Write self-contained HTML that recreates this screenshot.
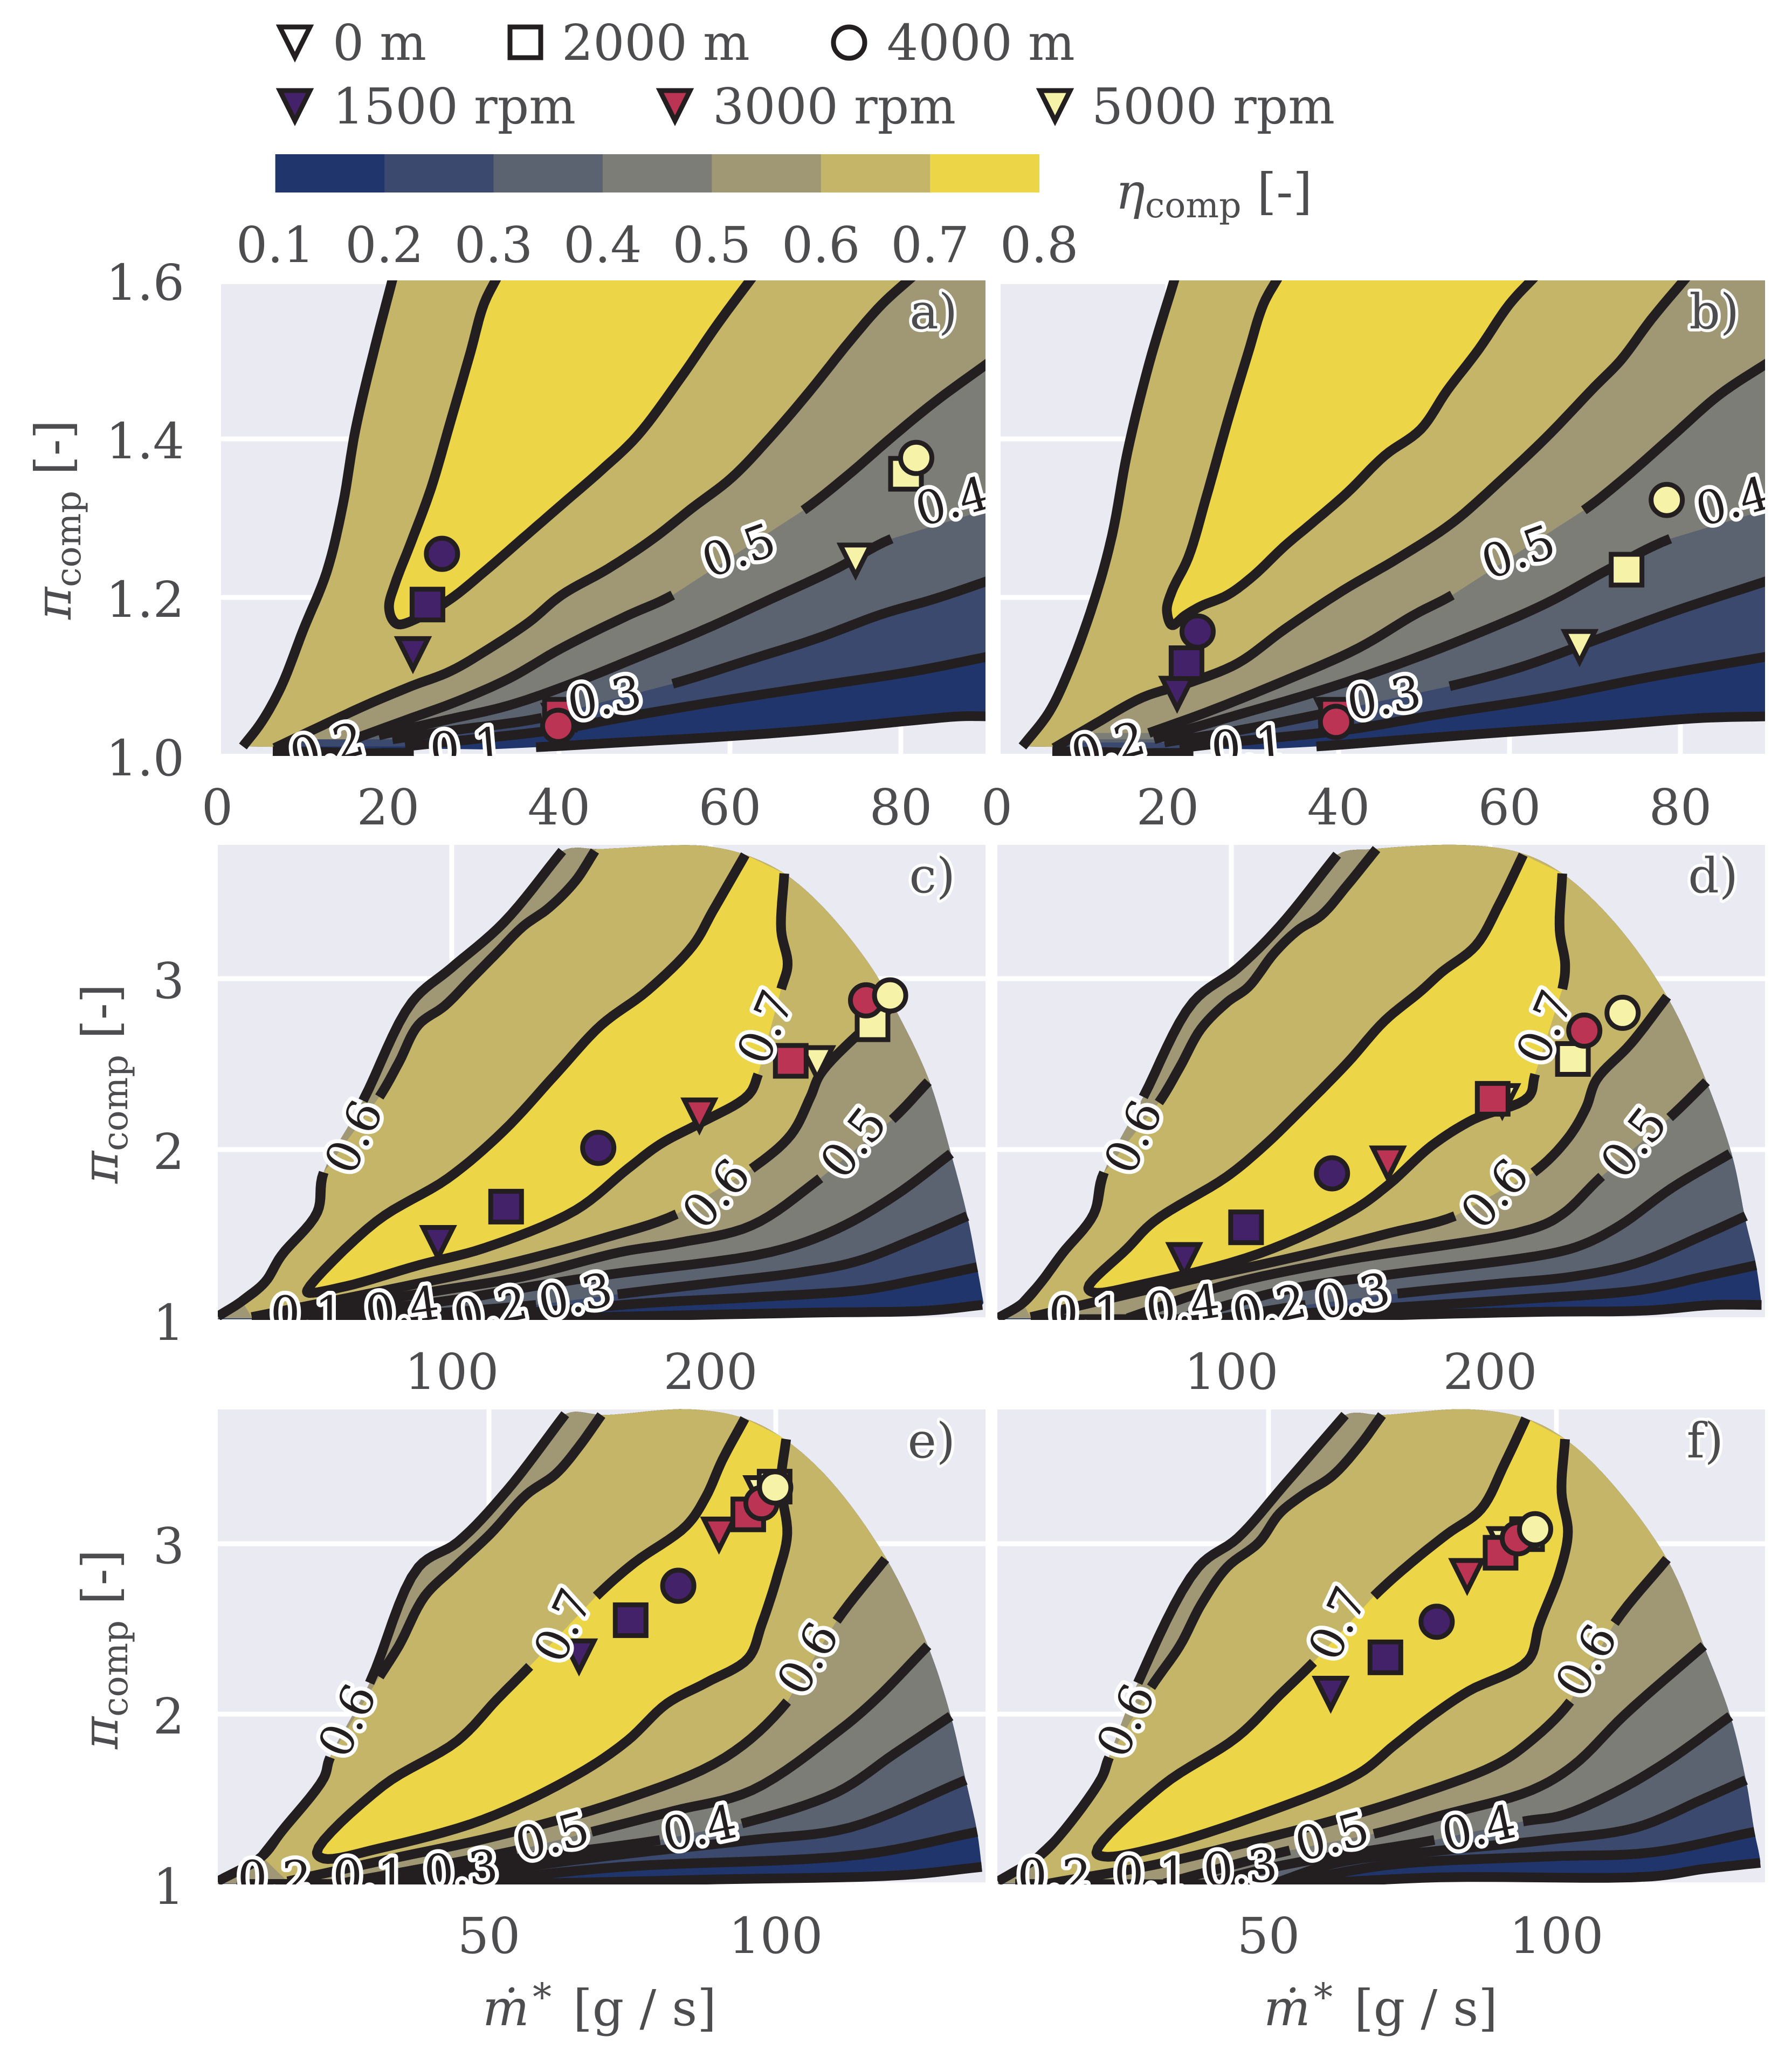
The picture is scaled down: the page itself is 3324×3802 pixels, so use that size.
<!DOCTYPE html>
<html>
<head>
<meta charset="utf-8">
<title>Compressor map panels</title>
<style>
html,body{margin:0;padding:0;background:#fff;}
svg{display:block;}
text{font-family:"DejaVu Serif","Liberation Serif",serif;fill:#4d4d4f;}
.t{font-size:91.5px;}
.lbl{font-size:86px;fill:#231f20;stroke:#fff;stroke-width:15px;paint-order:stroke;stroke-linejoin:round;}
.let{font-size:90px;fill:#4d4d4f;stroke:#fff;stroke-width:11px;paint-order:stroke;stroke-linejoin:round;}
.mk{stroke:#231f20;stroke-width:9;stroke-linejoin:miter;stroke-miterlimit:10;}
</style>
</head>
<body>
<svg id="chart" xmlns="http://www.w3.org/2000/svg" width="3324" height="3802" viewBox="0 0 3324 3802">
<rect x="0" y="0" width="3324" height="3802" fill="#fff"/>
<g>
  <polygon class="mk" fill="#fff" points="519,50 575,50 547,106"/>
  <text class="t" x="617" y="111">0 m</text>
  <rect class="mk" fill="#fff" x="946" y="50" width="57" height="57"/>
  <text class="t" x="1042" y="111">2000 m</text>
  <circle class="mk" fill="#fff" cx="1575" cy="79" r="29"/>
  <text class="t" x="1645" y="111">4000 m</text>
  <polygon class="mk" fill="#43226a" points="519,168 575,168 547,224"/>
  <text class="t" x="617" y="229">1500 rpm</text>
  <polygon class="mk" fill="#bc3454" points="1224,168 1280,168 1252,224"/>
  <text class="t" x="1322" y="229">3000 rpm</text>
  <polygon class="mk" fill="#f6f3a8" points="1929,168 1985,168 1957,224"/>
  <text class="t" x="2025" y="229">5000 rpm</text>
</g>
<g id="colorbar"></g>
<text class="t" x="2069" y="387"><tspan font-style="italic">η</tspan><tspan font-size="65" dy="16">comp</tspan><tspan dy="-16"> [-]</tspan></text>
<g id="panels"></g>
<text class="t" transform="translate(131,1149) rotate(-90)"><tspan font-style="italic">π</tspan><tspan font-size="65" dy="18">comp</tspan><tspan dy="-18"> [-]</tspan></text>
<text class="t" transform="translate(218,2195) rotate(-90)"><tspan font-style="italic">π</tspan><tspan font-size="65" dy="18">comp</tspan><tspan dy="-18"> [-]</tspan></text>
<text class="t" transform="translate(218,3244) rotate(-90)"><tspan font-style="italic">π</tspan><tspan font-size="65" dy="18">comp</tspan><tspan dy="-18"> [-]</tspan></text>
<text class="t" x="895" y="3756"><tspan font-style="italic">ṁ</tspan><tspan font-size="70" x="988" y="3728">*</tspan><tspan x="1063" y="3756">[g / s]</tspan></text>
<text class="t" x="2344" y="3756"><tspan font-style="italic">ṁ</tspan><tspan font-size="70" x="2437" y="3728">*</tspan><tspan x="2512" y="3756">[g / s]</tspan></text>
</svg>
<script>
// colour scale
const cbarLevels=[0.1,0.2,0.3,0.4,0.5,0.6,0.7,0.8];
const cbarColors=['#20356b','#3a496d','#5b6270','#7c7d77','#a09875','#c4b568','#ecd547'];
const rpmColors=['#43226a','#bc3454','#f6f3a8'];

// panel a
const a_left=[[3,1.012],[5.2,1.043],[7.5,1.088],[10.1,1.16],[12.8,1.232],[14.7,1.317],[16.2,1.413],[18.5,1.518],[20.6,1.605]];
const a_c07=[[32.8,1.605],[31.2,1.57],[29.6,1.508],[27.3,1.422],[25,1.337],[22.7,1.27],[20.8,1.217],[20.1,1.189],[20.5,1.172],[21.2,1.166],[23.5,1.174],[27.3,1.198],[31.2,1.232],[35.7,1.274],[40.3,1.317],[44.9,1.36],[49.1,1.403],[54.1,1.475],[58.7,1.547],[62.7,1.605]];
const a_c06=[[6.7,1.01],[12.8,1.041],[17.4,1.064],[22.7,1.088],[27.3,1.107],[31.9,1.136],[36.5,1.169],[40.3,1.203],[45.7,1.236],[51,1.274],[55.6,1.313],[60.2,1.351],[64.8,1.403],[69.4,1.461],[74,1.523],[77.8,1.57],[81.4,1.605]];
const a_c05=[[15.9,1.021],[22,1.045],[28.1,1.069],[34.2,1.098],[40.3,1.136],[48,1.177],[53.3,1.203],null,[68.6,1.31],[74,1.356],[78.6,1.399],[83.9,1.446],[90.5,1.498]];
const a_c04=[[18.9,1.026],[26.6,1.045],[34.2,1.064],[41.9,1.093],[49.5,1.126],[57.1,1.16],[64.8,1.198],[72.4,1.236],[78.9,1.274],null,[90.5,1.312]];
const a_c03=[[20.5,1.021],[28.1,1.033],[38,1.048],null,[53.3,1.091],[62.5,1.122],[70.1,1.148],[77.8,1.179],[83.9,1.198],[90.5,1.222]];
const a_c02=[[22,1.012],[28.1,1.019],[39.6,1.033],[47.2,1.048],[58.7,1.069],[70.1,1.088],[81.6,1.107],[90.5,1.126]];
const a_c01=[[6.5,1.006],[23,1.004],null,[37.3,1.011],[47.2,1.017],[58.7,1.024],[70.1,1.033],[81.6,1.045],[87,1.05],[90.5,1.05]];
const a_tri=[[22.9,1.129],[40,1.045],[74.7,1.247]];
const a_sq=[[24.6,1.191],[40.1,1.052],[80.6,1.356]];
const a_circ=[[26.3,1.255],[39.9,1.038],[81.8,1.376]];
const a_labels=[['0.2',12.8,1.012,-15],['0.1',29.2,1.012,-5],['0.3',45.3,1.074,-10],['0.5',61,1.26,-20],['0.4',86,1.322,-15]];

// panel b
const b_left=[[3,1.012],[6.1,1.055],[8.6,1.112],[11.6,1.203],[13.5,1.279],[15.3,1.384],[17.8,1.494],[20.9,1.605]];
const b_c07=[[33,1.605],[31.2,1.57],[29.4,1.508],[27,1.422],[24.5,1.326],[22.4,1.25],[20.5,1.208],[19.9,1.184],[20.5,1.165],[22,1.177],[23.9,1.189],[27,1.203],[30,1.227],[33.7,1.265],[36.8,1.293],[41,1.332],[45.4,1.379],[49.6,1.412],[52.7,1.461],[56.4,1.513],[60,1.57],[63,1.605]];
const b_c06=[[6.7,1.01],[11.6,1.041],[17.1,1.074],[22.7,1.093],[28.2,1.117],[33.7,1.16],[40.4,1.208],[47.2,1.251],[53.3,1.294],[58.8,1.346],[64.4,1.403],[69.9,1.465],[73,1.499],[76.6,1.551],[80.8,1.605]];
const b_c05=[[17.8,1.029],[24.5,1.055],[33.7,1.095],[42.3,1.136],[49,1.179],[53.3,1.203],null,[68.7,1.31],[73.5,1.351],[79,1.403],[84.6,1.456],[90.5,1.498]];
const b_c04=[[18.4,1.021],[27.6,1.05],[36.8,1.079],[46,1.112],[55.2,1.15],[64.4,1.193],[71.7,1.236],[78.8,1.274],null,[90.5,1.312]];
const b_c03=[[19.6,1.017],[27.6,1.031],[38,1.053],null,[53,1.088],[61.3,1.112],[70.5,1.148],[79.7,1.184],[90.5,1.222]];
const b_c02=[[21.4,1.01],[28.8,1.019],[41,1.033],[52,1.053],[64.4,1.074],[76.6,1.1],[90.5,1.126]];
const b_c01=[[6.5,1.006],[23,1.004],null,[37.4,1.012],[46,1.019],[58.2,1.029],[70.5,1.038],[82.7,1.048],[90.5,1.05]];
const b_tri=[[21.1,1.079],[39.2,1.052],[68.2,1.138]];
const b_sq=[[22.2,1.117],[39.7,1.052],[73.7,1.235]];
const b_circ=[[23.5,1.157],[39.7,1.043],[78.4,1.323]];
const b_labels=[['0.2',13,1.013,-15],['0.1',29.4,1.014,-5],['0.3',45.3,1.074,-10],['0.5',61,1.258,-20],['0.4',86.1,1.322,-15]];

// panel c
const c_outer=[[9.6,1.024],[18.9,1.113],[27.8,1.224],[34.1,1.379],[48,1.633],[50.5,1.866],null,[65.7,2.286],[84.6,2.862],[99.7,3.061],[120,3.327],[142.7,3.747]];
const c_rim=[[157.8,3.758],[190.7,3.781],[200.8,3.77],[213.4,3.725],[228.5,3.615],[243.7,3.415],[261.4,3.083],[271.5,2.818],[284.1,2.419],[292.9,1.976],[299.2,1.611],[303,1.312],[305.6,1.091],[306.3,1.02],[9.6,1]];
const c_inner=[[18.9,1.113],[27.8,1.224],[34.1,1.379],[48,1.633],[50.5,1.866],null,[72,2.308],[79.5,2.508],[87.1,2.729],[97.2,2.84],[107.3,2.995],[117.4,3.15],[127.5,3.305],[137.6,3.415],[147.7,3.57],[155.3,3.747]];
const c_c07=[[213.4,3.725],[200.8,3.393],[193.2,3.194],[175.5,2.928],[157.8,2.729],[140.2,2.441],[120,2.109],[98.5,1.832],[70.7,1.578],[44.2,1.179],[44.2,1.164],[59.3,1.201],[87.1,1.323],[112.4,1.423],[147.7,1.644],[168,1.888],[180.6,2.032],[195.7,2.153],[214.6,2.319],[218.4,2.441],null,[227.3,2.939],[229.8,3.083],[227.3,3.283],[228.5,3.615]];
const c_c06=[[22.7,1.02],[82.1,1.201],[122.5,1.334],[157.8,1.478],[186.9,1.622],null,[215.9,1.888],[231.1,2.087],[238.6,2.308],[242.4,2.441],[256.3,2.663],[271.5,2.851]];
const c_c05=[[29,1.013],[92.2,1.168],[127.5,1.257],[165.4,1.401],[188.1,1.456],[215.9,1.556],[242.4,1.832],null,[270.2,2.176],[284.1,2.397]];
const c_c04=[[39.1,1.013],[102.3,1.124],[127.5,1.19],[160.4,1.268],[223.5,1.401],[248.7,1.534],[271.5,1.733],[292.9,1.976]];
const c_c03=[[66.9,1.013],[132.6,1.091],null,[164.1,1.153],[203.3,1.224],[233.6,1.279],[256.3,1.345],[279,1.478],[299.2,1.611]];
const c_c02=[[102.3,1.02],[140.2,1.058],[175.5,1.102],[215.9,1.135],[258.8,1.179],[279,1.235],[303,1.312]];
const c_c01=[[22.7,1.007],[127.5,1.013],[203.3,1.035],[241.2,1.046],[284.1,1.058],[305,1.091]];
const c_tri=[[94.7,1.456],[195.7,2.202],[241.2,2.508]];
const c_sq=[[121,1.666],[231,2.519],[262.6,2.733]];
const c_circ=[[156.6,2.01],[260.1,2.873],[269.4,2.902]];
const c_labels=[['0.1',44.2,1.046,0],['0.4',80.8,1.08,-8],['0.2',114.9,1.069,-12],['0.3',147.7,1.146,-12],['0.6',61.9,2.076,-65],['0.7',221,2.718,-67],['0.6',202,1.744,-48],['0.5',255,2.043,-52]];

// panel d
const d_outer=[[9.7,1.013],[19.4,1.102],[26.5,1.224],[34.6,1.39],[46.8,1.622],[50.8,1.866],null,[66,2.308],[85.2,2.862],[102.4,3.061],[118.6,3.305],[140.9,3.725]];
const d_rim=[[155,3.758],[190.5,3.781],[211.7,3.736],[227.9,3.615],[248.2,3.327],[268.4,2.895],[283.6,2.397],[293.7,1.954],[298.8,1.578],[302.8,1.323],[304.9,1.091],[305.3,1.02],[9.7,1]];
const d_inner=[[19.4,1.102],[26.5,1.224],[34.6,1.39],[46.8,1.622],[50.8,1.866],null,[72,2.275],[80.2,2.485],[88.3,2.707],[98.4,2.862],[106.5,2.95],[116.6,3.15],[125.7,3.283],[134.8,3.371],[144.9,3.548],[156.1,3.758]];
const d_c07=[[212.8,3.725],[203.6,3.437],[194.5,3.194],[181.4,3.039],[173.3,2.928],[159.1,2.751],[144.9,2.508],[124.7,2.198],[112.6,2.021],[98.4,1.843],[70,1.578],[59.9,1.423],[44.7,1.19],[46.8,1.164],[66,1.213],[110.5,1.39],[147,1.644],[161.1,1.799],[177.3,2.021],[193.5,2.176],[214.8,2.308],[217.4,2.441],null,[227.9,2.939],[229,3.083],[226.9,3.283],[227.9,3.615]];
const d_c06=[[22.5,1.02],[80.2,1.224],[126.7,1.379],[161.1,1.511],[186.4,1.611],null,[216.8,1.866],[230,2.065],[237,2.242],[241.1,2.408],[254.3,2.618],[268.4,2.895]];
const d_c05=[[59.9,1.013],[96.4,1.201],[140.9,1.345],[215.8,1.534],[227.9,1.622],[243.1,1.843],null,[269.4,2.187],[283.6,2.397]];
const d_c04=[[80.2,1.013],[124.7,1.19],[161.1,1.268],[222.9,1.39],[236,1.445],[250.2,1.556],[270.4,1.777],[292.7,1.976]];
const d_c03=[[96.4,1.013],[128.7,1.091],null,[164.2,1.157],[201.6,1.213],[232,1.257],[256.3,1.334],[282.6,1.5],[298.8,1.611]];
const d_c02=[[120.6,1.035],[167.2,1.08],[211.7,1.124],[258.3,1.179],[282.6,1.257],[302.8,1.323]];
const d_c01=[[22.5,1.007],[126.7,1.013],[173.3,1.035],[221.9,1.051],[260.3,1.058],[286.6,1.091],[304.9,1.091]];
const d_tri=[[81.8,1.356],[160.5,1.921],[204.7,2.286]];
const d_sq=[[105.7,1.545],[201,2.297],[232,2.53]];
const d_circ=[[138.9,1.861],[236.4,2.696],[251.2,2.8]];
const d_labels=[['0.1',43.7,1.046,0],['0.4',81.2,1.091,-8],['0.2',114.6,1.08,-12],['0.3',147,1.146,-12],['0.6',61.9,2.076,-65],['0.7',220.9,2.718,-67],['0.6',201.6,1.744,-48],['0.5',255.3,2.043,-52]];

// panel e
const e_outer=[[2.7,1.018],[10.4,1.164],[13.8,1.309],[21.2,1.625],[22.3,1.746],null,[29.2,2.183],[37.7,2.862],[44.5,3.008],[53.1,3.311],[63.3,3.76]];
const e_rim=[[70.2,3.755],[85,3.789],[94.6,3.735],[101.5,3.614],[109.5,3.371],[119.1,2.922],[126.5,2.401],[130.5,1.988],[133.1,1.613],[135.1,1.309],[135.9,1.103],[136.2,1.018],[2.7,1]];
const e_inner=[[10.4,1.164],[13.8,1.309],[21.2,1.625],[22.3,1.746],null,[30.9,2.219],[34.3,2.401],[38.8,2.692],[44,2.862],[50.2,3.056],[56.5,3.287],[61.6,3.408],[65.6,3.566],[69.6,3.755]];
const e_c07=[[94.6,3.735],[90.7,3.492],[87.8,3.274],[84.4,3.105],[75.3,2.887],[68.7,2.692],null,[57.1,2.28],[51.4,2.086],[44.5,1.843],[31.4,1.576],[20,1.188],[21.2,1.152],[30.9,1.212],[49.1,1.382],[65.6,1.649],[74.1,1.843],[81,2.061],[87.8,2.183],[95.2,2.328],[97.5,2.522],[100.3,2.813],[102,3.056],[100.9,3.347],[101.8,3.614]];
const e_c06=[[14.9,1.018],[33.1,1.152],[51.4,1.285],[73,1.491],[91.2,1.746],[102,2.073],null,[110.6,2.547],[119.1,2.91]];
const e_c05=[[24,1.005],[54.8,1.2],null,[67.9,1.309],[82.1,1.431],[95.8,1.552],[110.6,1.892],[117.4,2.086],[126.5,2.401]];
const e_c04=[[33.1,1.006],[50.2,1.127],[79.8,1.261],null,[94.1,1.358],[110.6,1.54],[120.8,1.77],[130.5,1.988]];
const e_c03=[[35.4,1.006],[55.9,1.103],[73,1.176],[95.8,1.261],[112.9,1.334],[133.1,1.613]];
const e_c02=[[44.5,1.006],[73,1.103],[115.1,1.176],[135.1,1.309]];
const e_c01=[[6,1.003],[55.9,1.006],[90.1,1.03],[122,1.055],[135.9,1.103]];
const e_tri=[[65.7,2.341],[90.1,3.056],[97.5,3.299]];
const e_sq=[[74.7,2.551],[95.2,3.172],[99.8,3.335]];
const e_circ=[[83,2.753],[97.5,3.238],[99.9,3.33]];
const e_labels=[['0.2',12.6,1.043,0],['0.1',29.2,1.054,0],['0.3',45.1,1.091,-5],['0.5',61,1.285,-15],['0.4',86.7,1.334,-12],['0.6',25.2,1.964,-65],['0.7',62.8,2.522,-65],['0.6',105.5,2.328,-60]];

// panel f
const f_outer=[[3,1.018],[10.1,1.164],[13.7,1.285],[21,1.625],[22.3,1.746],null,[27.3,2.183],[37.8,2.862],[44.6,3.032],[52.8,3.347],[63.3,3.755]];
const f_rim=[[69.7,3.755],[84.7,3.789],[94.7,3.735],[101.5,3.614],[109.2,3.371],[119.2,2.91],[125.6,2.401],[130.2,1.988],[132.9,1.613],[134.4,1.309],[135.4,1.14],[135.6,1.018],[3,1]];
const f_inner=[[10.1,1.164],[13.7,1.285],[21,1.625],[22.3,1.746],null,[29.6,2.158],[34.6,2.401],[38.3,2.643],[42.8,2.862],[48.3,3.007],[51.9,3.177],[56,3.287],[61,3.396],[65.6,3.566],[69.7,3.755]];
const f_c07=[[94.7,3.735],[91,3.469],[86.9,3.202],[81,3.056],[74.7,2.886],[68.3,2.692],null,[57.8,2.304],[51.9,2.11],[44.6,1.867],[31.4,1.576],[20.1,1.188],[21.4,1.164],[30.1,1.212],[49.2,1.418],[65.6,1.649],[71.9,1.819],[78.3,1.988],[84.7,2.134],[95.1,2.316],[97,2.522],[100.6,2.838],[102,3.068],[100.9,3.299],[101.5,3.614]];
const f_c06=[[11.9,1.006],[30.1,1.115],[43.7,1.224],[61.9,1.382],[73.7,1.503],[89.2,1.697],[94.7,1.819],[102.4,2.073],null,[110.1,2.534],[119.2,2.91]];
const f_c05=[[31.9,1.006],[53.7,1.2],null,[68.3,1.297],[80.1,1.406],[95.6,1.552],[102.9,1.697],[112,2],[125.6,2.401]];
const f_c04=[[39.2,1.006],[52.8,1.115],[78.8,1.261],null,[94.2,1.37],[101,1.406],[110.1,1.54],[119.2,1.721],[130.2,1.988]];
const f_c03=[[51,1.006],[61.9,1.127],[80.1,1.2],[98.3,1.261],[113.8,1.334],[125.6,1.503],[132.9,1.613]];
const f_c02=[[52.8,1.006],[71,1.115],[98.3,1.164],[116.5,1.188],[134.4,1.309]];
const f_c01=[[6,1.003],[54.6,1.006],[80.1,1.042],[116.5,1.047],[125.6,1.091],[135.4,1.127]];
const f_tri=[[60.8,2.122],[84.5,2.813],[91,3]];
const f_sq=[[70.3,2.333],[90.3,2.947],[94.9,3.056]];
const f_circ=[[79.2,2.542],[93.3,3.032],[96.3,3.085]];
const f_labels=[['0.2',12.8,1.054,0],['0.1',29.6,1.067,0],['0.3',45.1,1.103,-5],['0.5',61,1.285,-15],['0.4',86.5,1.334,-12],['0.6',25.1,1.964,-65],['0.7',61.9,2.534,-65],['0.6',105.1,2.316,-60]];

// tick labels
const xTicksTop=[0,20,40,60,80];
const xTicksMid=[100,200];
const xTicksBot=[50,100];
const yTicksTop=[1.0,1.2,1.4,1.6];
const yTicksLow=[1,2,3];

const NS='http://www.w3.org/2000/svg';
function mk(tag,attrs,parent){
  const el=document.createElementNS(NS,tag);
  for(const k in attrs){el.setAttribute(k,attrs[k]);}
  if(parent){parent.appendChild(el);}
  return el;
}

// centripetal Catmull-Rom resampling of a px polyline; null marks a label gap
function smooth(pts){
  const s=[],gap={};
  pts.forEach(q=>{
    if(!q){gap[s.length-1]=true;}
    else{s.push(q);}
  });
  const out=[];
  const lerp=(A,B,ta,tb,t)=>{
    const d=tb-ta;
    return [A[0]*(tb-t)/d+B[0]*(t-ta)/d,A[1]*(tb-t)/d+B[1]*(t-ta)/d];
  };
  const step=(A,B)=>Math.max(Math.sqrt(Math.hypot(A[0]-B[0],A[1]-B[1])),0.01);
  for(let i=0;i<s.length-1;i++){
    const P1=s[i],P2=s[i+1];
    const P0=s[i-1]||[2*P1[0]-P2[0],2*P1[1]-P2[1]];
    const P3=s[i+2]||[2*P2[0]-P1[0],2*P2[1]-P1[1]];
    out.push(P1);
    if(gap[i]){out.push(null);continue;}
    const t0=0,t1=t0+step(P0,P1),t2=t1+step(P1,P2),t3=t2+step(P2,P3);
    for(let k=1;k<8;k++){
      const t=t1+(t2-t1)*k/8;
      const A1=lerp(P0,P1,t0,t1,t),A2=lerp(P1,P2,t1,t2,t),A3=lerp(P2,P3,t2,t3,t);
      const B1=lerp(A1,A2,t0,t2,t),B2=lerp(A2,A3,t1,t3,t);
      out.push(lerp(B1,B2,t1,t2,t));
    }
  }
  out.push(s[s.length-1]);
  return out;
}

// colorbar
const cbarScale=v=>510.6+(v-0.1)*(1927.6-510.6)/0.7;
const cbarGroup=document.getElementById('colorbar');
cbarColors.forEach((c,i)=>{
  const seg=mk('rect',{x:cbarScale(cbarLevels[i]),y:286,width:cbarScale(cbarLevels[i+1])-cbarScale(cbarLevels[i])+0.5,height:71,fill:c},cbarGroup);
  
  
});
cbarLevels.forEach(v=>{
  const t=mk('text',{class:'t',x:cbarScale(v),y:486,'text-anchor':'middle'},cbarGroup);
  t.textContent=v.toFixed(1);
  
  
});

const panelDefs=[
 {id:'a',letter:'a)',lx:1776,ly:609,x0:403,xv:0,xk:15.85,y0:1402,yv:1,yk:1470,bg:[410,527,1828,1398],clip:[404,520,1828,1402],xt:xTicksTop,yt:yTicksTop,yf:1,xb:1529,
  outer:a_left,rim:[[95,1.7],[95,1.0]],inner:null,lines:[a_c01,a_c02,a_c03,a_c04,a_c05,a_c06],c07:a_c07,tri:a_tri,sq:a_sq,circ:a_circ,labels:a_labels},
 {id:'b',letter:'b)',lx:3226,ly:609,x0:1849,xv:0,xk:15.85,y0:1402,yv:1,yk:1470,bg:[1856,527,3274,1398],clip:[1850,520,3274,1402],xt:xTicksTop,yt:[],yf:1,xb:1529,
  outer:b_left,rim:[[95,1.7],[95,1.0]],inner:null,lines:[b_c01,b_c02,b_c03,b_c04,b_c05,b_c06],c07:b_c07,tri:b_tri,sq:b_sq,circ:b_circ,labels:b_labels,gridY:yTicksTop},
 {id:'c',letter:'c)',lx:1772,ly:1655,x0:838,xv:100,xk:4.8,y0:2449,yv:1,yk:317,bg:[404,1567,1828,2443],clip:[404,1560,1828,2448],xt:xTicksMid,yt:yTicksLow,yf:0,xb:2576,
  outer:c_outer,rim:c_rim,inner:c_inner,lines:[c_c01,c_c02,c_c03,c_c04,c_c05,c_c06],c07:c_c07,tri:c_tri,sq:c_sq,circ:c_circ,labels:c_labels},
 {id:'d',letter:'d)',lx:3224,ly:1655,x0:2284,xv:100,xk:4.8,y0:2449,yv:1,yk:317,bg:[1850,1567,3274,2443],clip:[1850,1560,3274,2448],xt:xTicksMid,yt:[],yf:0,xb:2576,
  outer:d_outer,rim:d_rim,inner:d_inner,lines:[d_c01,d_c02,d_c03,d_c04,d_c05,d_c06],c07:d_c07,tri:d_tri,sq:d_sq,circ:d_circ,labels:d_labels,gridY:yTicksLow},
 {id:'e',letter:'e)',lx:1772,ly:2703,x0:907,xv:50,xk:10.64,y0:3495,yv:1,yk:316,bg:[404,2614,1828,3491],clip:[404,2607,1828,3495],xt:xTicksBot,yt:yTicksLow,yf:0,xb:3622,
  outer:e_outer,rim:e_rim,inner:e_inner,lines:[e_c01,e_c02,e_c03,e_c04,e_c05,e_c06],c07:e_c07,tri:e_tri,sq:e_sq,circ:e_circ,labels:e_labels},
 {id:'f',letter:'f)',lx:3197,ly:2703,x0:2353,xv:50,xk:10.68,y0:3495,yv:1,yk:316,bg:[1850,2614,3274,3491],clip:[1850,2607,3274,3495],xt:xTicksBot,yt:[],yf:0,xb:3622,
  outer:f_outer,rim:f_rim,inner:f_inner,lines:[f_c01,f_c02,f_c03,f_c04,f_c05,f_c06],c07:f_c07,tri:f_tri,sq:f_sq,circ:f_circ,labels:f_labels,gridY:yTicksLow}
];

const root=document.getElementById('panels');
const defs=mk('defs',{},root);

panelDefs.forEach(p=>{
  const sx=v=>p.x0+(v-p.xv)*p.xk;
  const sy=v=>p.y0-(v-p.yv)*p.yk;
  const toPx=a=>a.map(q=>q?[sx(q[0]),sy(q[1])]:null);
  const solid=a=>a.filter(q=>q);
  const ptsStr=a=>solid(a).map(q=>q[0].toFixed(1)+','+q[1].toFixed(1)).join(' ');
  const curve=a=>smooth(toPx(a));
  const lineD=a=>{
    let d='',start=true;
    a.forEach(q=>{
      if(!q){start=true;return;}
      d+=(start?'M':'L')+q[0].toFixed(1)+' '+q[1].toFixed(1);
      start=false;
    });
    return d;
  };
  const g=mk('g',{},root);
  
  

  const cr=mk('clipPath',{id:'rect-'+p.id},defs);
  mk('rect',{x:p.clip[0],y:p.clip[1],width:p.clip[2]-p.clip[0],height:p.clip[3]-p.clip[1]},cr);
  const ce=mk('clipPath',{id:'env-'+p.id},defs);
  let envPts;
  if(p.rim.length>2){
    envPts=smooth(toPx(solid(p.outer).concat(p.rim.slice(0,-1)))).concat(toPx(p.rim.slice(-1)));
  }else{
    envPts=smooth(toPx(solid(p.outer))).concat(toPx(p.rim));
  }
  mk('polygon',{points:ptsStr(envPts)},ce);

  const bg=mk('rect',{x:p.bg[0],y:p.bg[1],width:p.bg[2]-p.bg[0],height:p.bg[3]-p.bg[1],fill:'#eaeaf2'},g);
  
  

  p.xt.forEach(v=>{
    const X=sx(v);
    if(X<p.bg[0]||X>p.bg[2]){return;}
    const gl=mk('line',{x1:X,x2:X,y1:p.bg[1],y2:p.bg[3],stroke:'#fff','stroke-width':9},g);
    
    
  });
  (p.yt.length?p.yt:p.gridY).forEach(v=>{
    const Y=sy(v);
    if(Y<p.bg[1]||Y>p.bg[3]){return;}
    const gl=mk('line',{x1:p.bg[0],x2:p.bg[2],y1:Y,y2:Y,stroke:'#fff','stroke-width':9},g);
    
    
  });

  const clipG=mk('g',{'clip-path':'url(#rect-'+p.id+')'},g);
  
  
  const envG=mk('g',{'clip-path':'url(#env-'+p.id+')'},clipG);
  
  

  const farR=4000,farT=-1000,farL=-1000;
  p.lines.forEach((ln,i)=>{
    const s=solid(curve(ln));
    let poly;
    if(i===5&&p.inner){
      poly=s.concat([[farR,farT]],solid(curve(p.inner)).reverse());
    }else{
      poly=s.concat([[farR,farT],[farL,farT],[farL,s[0][1]]]);
    }
    const f=mk('polygon',{points:ptsStr(poly),fill:cbarColors[i]},envG);
    
    
  });
  const top=mk('polygon',{points:ptsStr(curve(p.c07)),fill:cbarColors[6]},envG);
  
  

  const allLines=p.lines.concat([p.c07,p.outer]);
  if(p.inner){allLines.push(p.inner);}
  allLines.forEach(ln=>{
    const l=mk('path',{d:lineD(curve(ln)),fill:'none',stroke:'#231f20','stroke-width':18,'stroke-linejoin':'round'},clipG);
    
    
  });

  const mkG=mk('g',{},g);
  
  
  p.tri.forEach((q,i)=>{
    const X=sx(q[0]),Y=sy(q[1]);
    const m=mk('polygon',{class:'mk',fill:rpmColors[i],points:(X-28)+','+(Y-28)+' '+(X+28)+','+(Y-28)+' '+X+','+(Y+28)},mkG);
    
    
  });
  p.sq.forEach((q,i)=>{
    const m=mk('rect',{class:'mk',fill:rpmColors[i],x:sx(q[0])-28.5,y:sy(q[1])-28.5,width:57,height:57},mkG);
    
    
  });
  p.circ.forEach((q,i)=>{
    const m=mk('circle',{class:'mk',fill:rpmColors[i],cx:sx(q[0]),cy:sy(q[1]),r:29},mkG);
    
    
  });

  const lblClip=mk('g',{'clip-path':'url(#rect-'+p.id+')'},g);
  
  
  p.labels.forEach(q=>{
    const X=sx(q[1]),Y=sy(q[2]);
    const t=mk('text',{class:'lbl',transform:'translate('+X.toFixed(1)+','+Y.toFixed(1)+') rotate('+q[3]+')','text-anchor':'middle',dy:'0.36em'},lblClip);
    t.textContent=q[0];
    
    
  });

  const letter=mk('text',{class:'let',x:p.lx,y:p.ly,'text-anchor':'end'},g);
  letter.textContent=p.letter;
  
  

  p.xt.forEach(v=>{
    const t=mk('text',{class:'t',x:sx(v),y:p.xb,'text-anchor':'middle'},g);
    t.textContent=String(v);
    
    
  });
  p.yt.forEach(v=>{
    const t=mk('text',{class:'t',x:342,y:sy(v)+36,'text-anchor':'end'},g);
    t.textContent=v.toFixed(p.yf);
    
    
  });
});
</script>
</body>
</html>
